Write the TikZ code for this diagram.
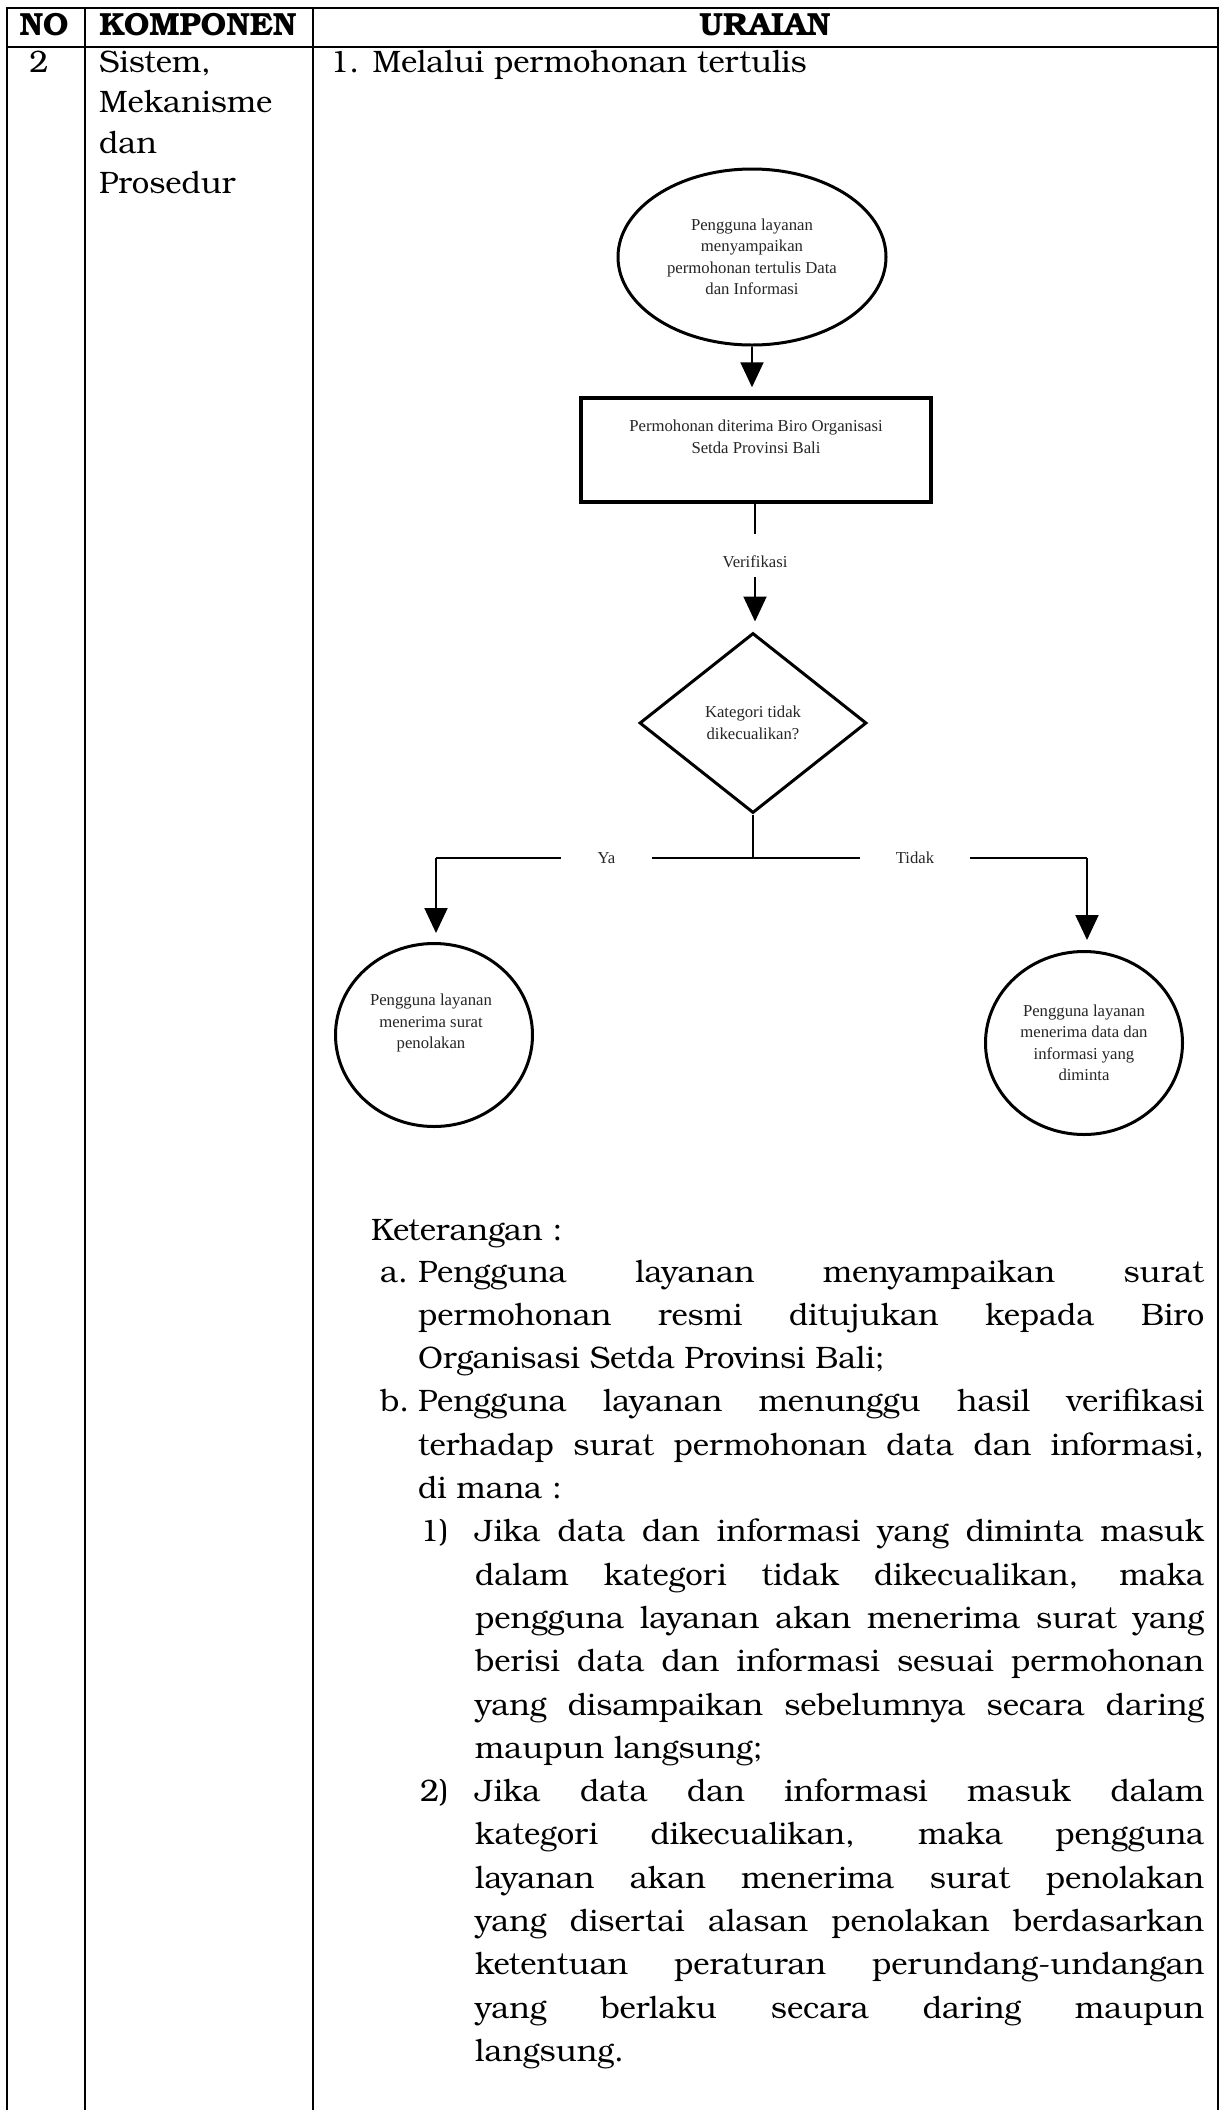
\documentclass[tikz,border=0pt]{standalone}
\usepackage{fontspec}
\setmainfont{TeX Gyre Bonum}
\newfontfamily\fcfont{Liberation Serif}
\usetikzlibrary{shapes.geometric,arrows.meta}

% one justified line of the running text
\newcommand{\jline}[2]{\makebox[#1][s]{#2}}

\begin{document}
\begin{tikzpicture}[x=1pt,y=-1pt,
  rule/.style={line width=2.2pt},
  body/.style={anchor=base west,inner sep=0pt,font=\fontsize{31}{43.3}\selectfont},
  head/.style={anchor=base,inner sep=0pt,font=\fontsize{32}{43.3}\selectfont\bfseries},
  fctext/.style={align=center,inner sep=0pt,font=\fcfont\fontsize{16.7}{21.5}\selectfont,text=black!85},
  oval/.style={draw,ellipse,line width=3pt,inner sep=0pt,align=center,font=\fcfont\fontsize{16.7}{21.5}\selectfont,text=black!85},
  procbox/.style={draw,rectangle,line width=3.5pt,inner sep=0pt},
  decision/.style={draw,diamond,line width=3pt,inner sep=0pt,align=center,font=\fcfont\fontsize{16.7}{21.5}\selectfont,text=black!85},
  flow/.style={line width=2pt},
  branch/.style={line width=2.8pt},
  arr/.style={line width=2pt,-{Triangle[length=25pt,width=23pt]}},
]
\useasboundingbox (0,0) rectangle (1225,2110);
\fill[white] (0,0) rectangle (1225,2110);

% table frame
\draw[rule] (7,2110) -- (7,8) -- (1218,8) -- (1218,2110);
\draw[rule] (7,47) -- (1218,47);
\draw[rule] (85,8) -- (85,2110);
\draw[rule] (313,8) -- (313,2110);

% header row
\node[head] (hno) at (44,35) {NO};
\node[head] (hkomp) at (198,35) {KOMPONEN};
\node[head] (hurai) at (765,35) {URAIAN};

% first column entries
\node[body,anchor=base] (no2) at (39,72) {2};
\node[body] (k1) at (99,72) {Sistem,};
\node[body] (k2) at (99,112.5) {Mekanisme};
\node[body] (k3) at (99,153) {dan};
\node[body] (k4) at (99,193.5) {Prosedur};
\node[body] (u1) at (330,72) {1. Melalui permohonan tertulis};

% flowchart
\node[oval,minimum width=268pt,minimum height=176pt] (start) at (752,257)
  {Pengguna layanan\\menyampaikan\\permohonan tertulis Data\\dan Informasi};
\node[procbox,minimum width=350pt,minimum height=104pt] (recv) at (756,450) {};
\node[fctext] (recvtxt) at (756,437) {Permohonan diterima Biro Organisasi\\Setda Provinsi Bali};
\node[fctext] (verif) at (755,562) {Verifikasi};
\node[decision,minimum width=227pt,minimum height=180pt] (dec) at (753,723)
  {Kategori tidak\\dikecualikan?};
\node[fctext,minimum width=91pt] (ya) at (606.5,858) {Ya};
\node[fctext,minimum width=110pt] (tidak) at (915,858) {Tidak};
\coordinate (lturn) at (436,858);
\coordinate (rturn) at (1087,858);
\node[oval,minimum width=197pt,minimum height=183pt] (reject) at (434,1035) {};
\node[fctext] (rejecttxt) at (431,1023) {Pengguna layanan\\menerima surat\\penolakan};
\node[oval,minimum width=197pt,minimum height=183pt] (grant) at (1084,1043)
  {Pengguna layanan\\menerima data dan\\informasi yang\\diminta};

\draw[arr,shorten >=9pt] (start.south) -- (start.south |- recv.north);
\draw[flow,shorten >=22pt] (recv.south -| verif.north) -- (verif.north);
\draw[arr,shorten <=9pt,shorten >=10pt] (verif.south) -- (verif.south |- dec.north);
\draw[branch] (dec.south) -- (dec.south |- ya.center);
\draw[branch] (ya.east) -- (tidak.west);
\draw[branch] (ya.west) -- (lturn);
\draw[branch] (tidak.east) -- (rturn);
\draw[arr,shorten >=9pt] (lturn) -- (lturn |- reject.north);
\draw[arr,shorten >=10pt] (rturn) -- (rturn |- grant.north);

% explanatory notes
\node[body] (ket) at (371,1240) {Keterangan :};
\node[body] (la) at (380,1282) {a.};
\node[body] (a1) at (418,1282) {\jline{786pt}{Pengguna layanan menyampaikan surat}};
\node[body] (a2) at (418,1325.3) {\jline{786pt}{permohonan resmi ditujukan kepada Biro}};
\node[body] (a3) at (418,1368.6) {Organisasi Setda Provinsi Bali;};
\node[body] (lb) at (380,1411.9) {b.};
\node[body] (b1) at (418,1411.9) {\jline{786pt}{Pengguna layanan menunggu hasil verifikasi}};
\node[body] (b2) at (418,1455.2) {\jline{786pt}{terhadap surat permohonan data dan informasi,}};
\node[body] (b3) at (418,1498.5) {di mana :};
\node[body] (l1) at (420,1541.8) {1)};
\node[body] (n11) at (475,1541.8) {\jline{729pt}{Jika data dan informasi yang diminta masuk}};
\node[body] (n12) at (475,1585.1) {\jline{729pt}{dalam kategori tidak dikecualikan, maka}};
\node[body] (n13) at (475,1628.4) {\jline{729pt}{pengguna layanan akan menerima surat yang}};
\node[body] (n14) at (475,1671.7) {\jline{729pt}{berisi data dan informasi sesuai permohonan}};
\node[body] (n15) at (475,1715) {\jline{729pt}{yang disampaikan sebelumnya secara daring}};
\node[body] (n16) at (475,1758.3) {maupun langsung;};
\node[body] (l2) at (420,1801.6) {2)};
\node[body] (n21) at (475,1801.6) {\jline{729pt}{Jika data dan informasi masuk dalam}};
\node[body] (n22) at (475,1844.9) {\jline{729pt}{kategori dikecualikan, maka pengguna}};
\node[body] (n23) at (475,1888.2) {\jline{729pt}{layanan akan menerima surat penolakan}};
\node[body] (n24) at (475,1931.5) {\jline{729pt}{yang disertai alasan penolakan berdasarkan}};
\node[body] (n25) at (475,1974.8) {\jline{729pt}{ketentuan peraturan perundang-undangan}};
\node[body] (n26) at (475,2018.1) {\jline{729pt}{yang berlaku secara daring maupun}};
\node[body] (n27) at (475,2061.4) {langsung.};
\end{tikzpicture}
\end{document}
